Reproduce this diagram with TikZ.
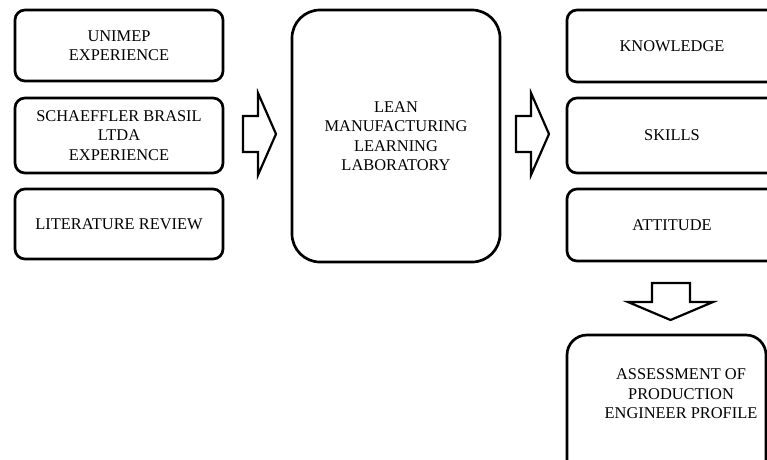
\documentclass[tikz,border=0pt]{standalone}
\usepackage{fontspec}
\setmainfont{Liberation Serif}
\begin{document}
\begin{tikzpicture}[x=1pt,y=-1pt,
  box/.style={draw=black, line width=2.7pt, rounded corners=10pt, fill=white,
    align=center, inner sep=0pt, font=\fontsize{16.4}{19.5}\selectfont},
  bigbox/.style={box, rounded corners=28pt},
  label/.style={align=center, inner sep=0pt, font=\fontsize{16.4}{19.5}\selectfont},
  blockarrow/.style={draw=black, line width=2.2pt, fill=white, line join=miter}
]
\useasboundingbox (0,0) rectangle (767,459);

% inputs
\node[box, minimum width=208pt, minimum height=71pt] (unimep) at (119,45.5) {UNIMEP\\EXPERIENCE};
\node[box, minimum width=208pt, minimum height=75pt] (schaeffler) at (119,135.5) {SCHAEFFLER BRASIL\\LTDA\\EXPERIENCE};
\node[box, minimum width=208pt, minimum height=70pt] (literature) at (119,224) {LITERATURE REVIEW};

% laboratory
\node[bigbox, minimum width=208pt, minimum height=252pt] (lab) at (396,136) {LEAN\\MANUFACTURING\\LEARNING\\LABORATORY};

% competences
\node[box, minimum width=210pt, minimum height=72pt] (knowledge) at (672,46) {KNOWLEDGE};
\node[box, minimum width=210pt, minimum height=75pt] (skills) at (672,135.5) {SKILLS};
\node[box, minimum width=210pt, minimum height=72pt] (attitude) at (672,225) {ATTITUDE};

% assessment
\node[bigbox, rounded corners=20pt, minimum width=199pt, minimum height=150pt] (assess) at (666.5,410) {};
\node[label] (assesstext) at (681,394) {ASSESSMENT OF\\PRODUCTION\\ENGINEER PROFILE};

% block arrows
\draw[blockarrow] (243,116) -- (258,116) -- (258,93) -- (276,134) -- (258,175) -- (258,152) -- (243,152) -- cycle;
\draw[blockarrow] (516,116) -- (531,116) -- (531,93) -- (549,134) -- (531,175) -- (531,152) -- (516,152) -- cycle;
\draw[blockarrow] (652,283) -- (690,283) -- (690,302) -- (713,302) -- (670.5,320) -- (628,302) -- (652,302) -- cycle;
\end{tikzpicture}
\end{document}
